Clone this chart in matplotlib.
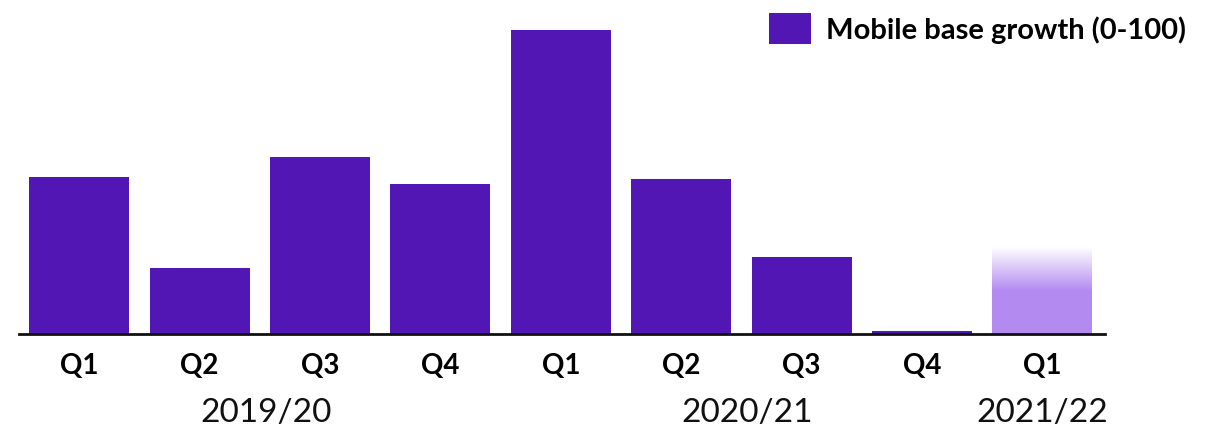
import numpy as np
import matplotlib
matplotlib.use("Agg")
import matplotlib.pyplot as plt
from matplotlib.colors import LinearSegmentedColormap
import matplotlib.transforms as mtransforms

plt.rcParams["font.family"] = ["Lato", "DejaVu Sans"]

# data
quarters = ["Q1", "Q2", "Q3", "Q4", "Q1", "Q2", "Q3", "Q4", "Q1"]
growth = [51.6, 21.7, 58.2, 49.3, 100, 51.0, 25.3, 1.0, 28.3]
years = ["2019/20", "2020/21", "2021/22"]
year_pos = [1.55, 5.55, 8.0]
legend_label = "Mobile base growth (0-100)"

main_color = "#5216B5"
proj_color = "#B38BF0"

fig = plt.figure(figsize=(12.21, 4.3), dpi=100)
ax = fig.add_axes([19 / 1221, 96 / 430, 1086 / 1221, 304 / 430])

x = np.arange(len(growth))
bars = ax.bar(x[:-1], growth[:-1], width=0.83, color=main_color, label=legend_label)

# last bar: faded (projected) with gradient at the top
last = ax.bar(x[-1:], growth[-1:], width=0.83, color="none")[0]
h = growth[-1]
grad = np.linspace(0, 1, 256).reshape(-1, 1)
cmap = LinearSegmentedColormap.from_list(
    "fade", [(0, proj_color), (0.5, proj_color), (1, "#ffffff")])
im = ax.imshow(grad, cmap=cmap, aspect="auto", origin="lower",
               extent=(x[-1] - 0.415, x[-1] + 0.415, 0, h), zorder=2)
im.set_clip_path(last)

ax.set_xlim(-0.5, 8.52)
ax.set_ylim(0, 100)
for s in ["top", "right", "left"]:
    ax.spines[s].set_visible(False)
ax.spines["bottom"].set_linewidth(2)
ax.spines["bottom"].set_color("#111111")
ax.set_yticks([])
ax.set_xticks(x)
ax.set_xticklabels(quarters, fontsize=20, fontweight="bold")
ax.tick_params(axis="x", length=0, pad=14)

trans = mtransforms.blended_transform_factory(ax.transData, ax.transAxes)
for label, pos in zip(years, year_pos):
    ax.text(pos, -0.26, label, transform=trans, ha="center", va="center",
            fontsize=24, color="#111111")

fig.legend(handles=[bars], labels=[legend_label], loc="upper right",
           bbox_to_anchor=(1212 / 1221, 1.03), frameon=False,
           prop={"size": 21, "weight": "bold"}, handlelength=1.45,
           handleheight=1.25, handletextpad=0.5)

fig.savefig("out.png", dpi=100)
